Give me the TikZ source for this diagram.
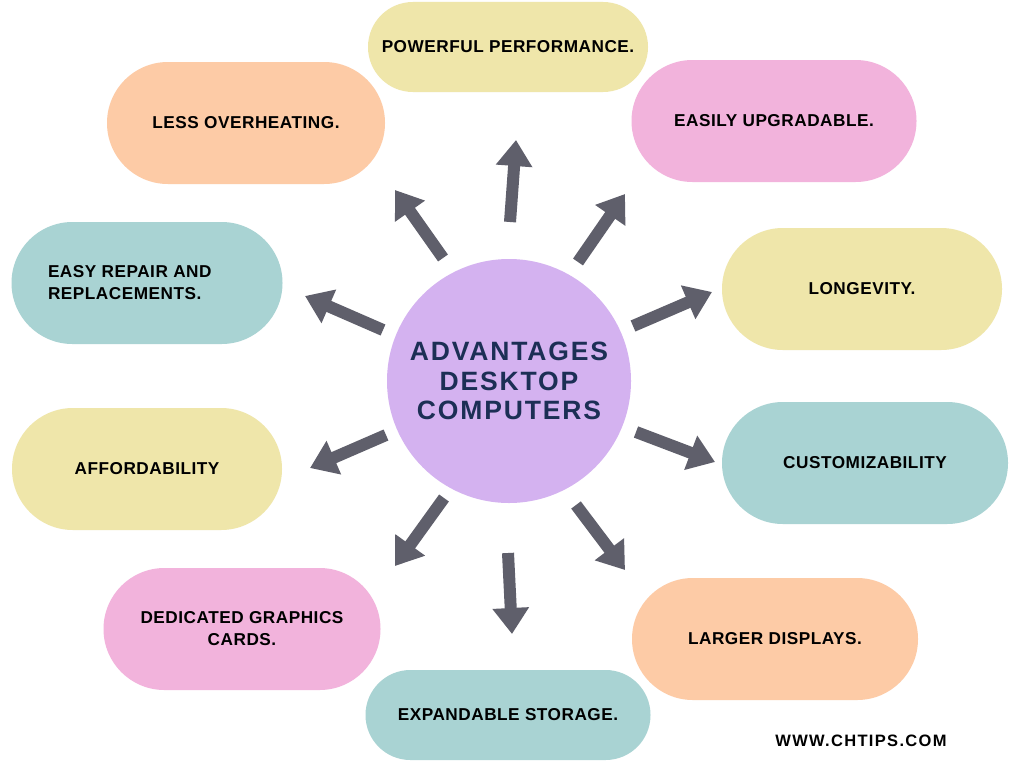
\documentclass[tikz,border=0pt]{standalone}
\usepackage{fontspec}
\setmainfont{Liberation Sans}
\newfontfamily\itemfont{Liberation Sans}[LetterSpace=3]
\newfontfamily\hubfont{Liberation Sans}[LetterSpace=7]
\newfontfamily\webfont{Liberation Sans}[LetterSpace=8]
\usetikzlibrary{arrows.meta}
\definecolor{peach}{HTML}{FDCBA6}
\definecolor{butter}{HTML}{EFE6AA}
\definecolor{rose}{HTML}{F2B3DC}
\definecolor{teal}{HTML}{A9D3D3}
\definecolor{lilac}{HTML}{D4B2F0}
\definecolor{navy}{HTML}{1C2F55}
\definecolor{arrowgray}{HTML}{5F5F6B}
\tikzset{
  pill/.style={fill=#1, draw=none, rounded corners=60.9pt, minimum width=278pt, minimum height=122pt, inner sep=0pt, font=\itemfont\fontsize{17.2}{22}\selectfont\bfseries, text=black, align=center},
  flatpill/.style={pill=#1, rounded corners=44.9pt, minimum height=90pt},
  bigarrow/.style={draw=arrowgray, line width=12pt, -{Triangle[width=35pt,length=26pt]}, fill=arrowgray},
}
\begin{document}
\begin{tikzpicture}[x=1pt,y=-1pt]
\useasboundingbox (0,0) rectangle (1024,768);
\fill[white] (0,0) rectangle (1024,768);
% items
\node[flatpill=butter, minimum width=280pt] (perf) at (508,47) {POWERFUL PERFORMANCE.};
\node[pill=peach] (heat) at (246,123) {LESS OVERHEATING.};
\node[pill=rose, minimum width=285pt] (upg) at (774,121) {EASILY UPGRADABLE.};
\node[pill=butter, minimum width=280pt] (long) at (862,289) {LONGEVITY.};
\node[pill=teal, minimum width=271pt] (rep) at (147,283) {\makebox[198pt][l]{EASY REPAIR AND}\\\makebox[198pt][l]{REPLACEMENTS.}};
\node[pill=butter, minimum width=270pt] (aff) at (147,469) {AFFORDABILITY};
\node[pill=teal, minimum width=286pt] (cust) at (865,463) {CUSTOMIZABILITY};
\node[pill=rose, minimum width=277pt] (gpu) at (242,629) {DEDICATED GRAPHICS\\CARDS.};
\node[flatpill=teal, minimum width=285pt] (stor) at (508,715) {EXPANDABLE STORAGE.};
\node[pill=peach, minimum width=286pt] (disp) at (775,639) {LARGER DISPLAYS.};
% centre
\node[circle, fill=lilac, minimum size=244pt, inner sep=0pt, font=\hubfont\fontsize{26.5}{29.5}\selectfont\bfseries, text=navy, align=center] (c) at (509,381) {ADVANTAGES\\DESKTOP\\COMPUTERS};
% arrow anchors
\coordinate (a1s) at (510,222); \coordinate (a1e) at (516,140);
\coordinate (a2s) at (443,258); \coordinate (a2e) at (395,190);
\coordinate (a3s) at (578,262); \coordinate (a3e) at (625,194);
\coordinate (a4s) at (383,330); \coordinate (a4e) at (305,296);
\coordinate (a5s) at (633,326); \coordinate (a5e) at (712,292);
\coordinate (a6s) at (386,435); \coordinate (a6e) at (310,468);
\coordinate (a7s) at (636,432); \coordinate (a7e) at (715,462);
\coordinate (a8s) at (444,498); \coordinate (a8e) at (395,566);
\coordinate (a9s) at (508,553); \coordinate (a9e) at (512,634);
\coordinate (a10s) at (576,505); \coordinate (a10e) at (625,570);
\foreach \i in {1,...,10} {\draw[bigarrow] (a\i s) -- (a\i e);}
\node[font=\webfont\fontsize{16.5}{20}\selectfont\bfseries, text=black, inner sep=0pt] (web) at (861,741) {WWW.CHTIPS.COM};
\end{tikzpicture}
\end{document}
